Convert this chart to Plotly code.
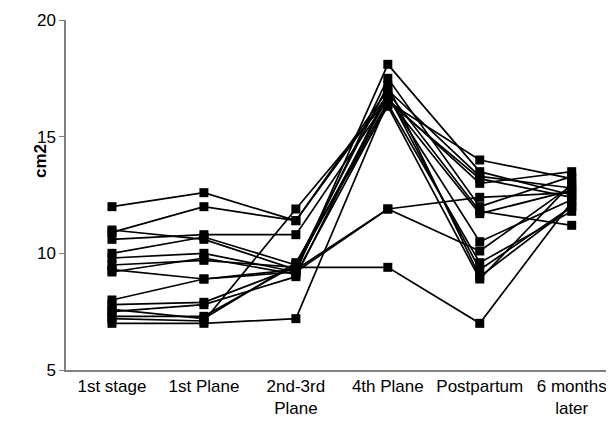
import plotly.graph_objects as go

categories = ["1st stage", "1st Plane", "2nd-3rd<br>Plane", "4th Plane", "Postpartum", "6 months<br>later"]

s01 = [12.0, 12.6, 11.4, 17.0, 13.3, 12.8]
s02 = [10.9, 12.0, 11.4, 16.8, 9.3, 12.0]
s03 = [10.6, 10.8, 10.8, 16.6, 13.0, 13.5]
s04 = [11.0, 10.6, 9.3, 17.5, 12.0, 13.3]
s05 = [10.0, 10.7, 9.5, 16.5, 14.0, 13.2]
s06 = [9.8, 10.0, 9.2, 18.1, 13.5, 12.5]
s07 = [9.5, 9.7, 9.4, 16.7, 10.5, 12.3]
s08 = [9.2, 9.8, 9.1, 16.4, 9.6, 11.8]
s09 = [9.3, 8.9, 9.3, 11.9, 12.4, 12.6]
s10 = [8.0, 8.9, 9.2, 11.9, 10.1, 12.9]
s11 = [7.8, 7.9, 9.4, 9.4, 7.0, 12.2]
s12 = [7.5, 7.8, 9.0, 16.9, 11.8, 11.2]
s13 = [7.3, 7.3, 9.5, 17.2, 9.0, 12.0]
s14 = [7.2, 7.1, 11.9, 16.6, 11.7, 12.7]
s15 = [7.0, 7.0, 7.2, 16.5, 13.2, 12.4]
s16 = [7.6, 7.2, 9.6, 16.3, 8.9, 13.0]

series = [s01, s02, s03, s04, s05, s06, s07, s08, s09, s10, s11, s12, s13, s14, s15, s16]

y_ticks = [5, 10, 15, 20]
y_title = "cm2"

fig = go.Figure()
for s in series:
    fig.add_trace(go.Scatter(
        x=categories, y=s, mode="lines+markers",
        line=dict(color="black", width=1.7),
        marker=dict(symbol="square", size=9, color="black"),
        showlegend=False, cliponaxis=False,
    ))

fig.update_layout(
    width=606, height=413,
    margin=dict(l=58, r=0, t=12, b=51, autoexpand=False),
    paper_bgcolor="white", plot_bgcolor="white",
    font=dict(family="Liberation Sans, Arial, sans-serif", size=17, color="black"),
    annotations=[dict(
        text="<b>" + y_title + "</b>", textangle=-90,
        xref="paper", yref="paper", x=-26 / 548, y=0.597,
        xanchor="center", yanchor="middle", showarrow=False,
        font=dict(size=17, color="black"),
    )],
)
fig.update_xaxes(
    type="category", range=[-0.5, 5.46], automargin=False,
    showline=True, linecolor="#808080", linewidth=1.5,
    showgrid=False, ticks="", tickfont=dict(size=17),
)
fig.update_yaxes(
    range=[5, 20], tickvals=y_ticks, automargin=False,
    showline=True, linecolor="#808080", linewidth=1.5,
    ticks="outside", ticklen=5, tickcolor="#808080",
    showgrid=False, zeroline=False, tickfont=dict(size=17),
)

fig.write_html("out.html")
